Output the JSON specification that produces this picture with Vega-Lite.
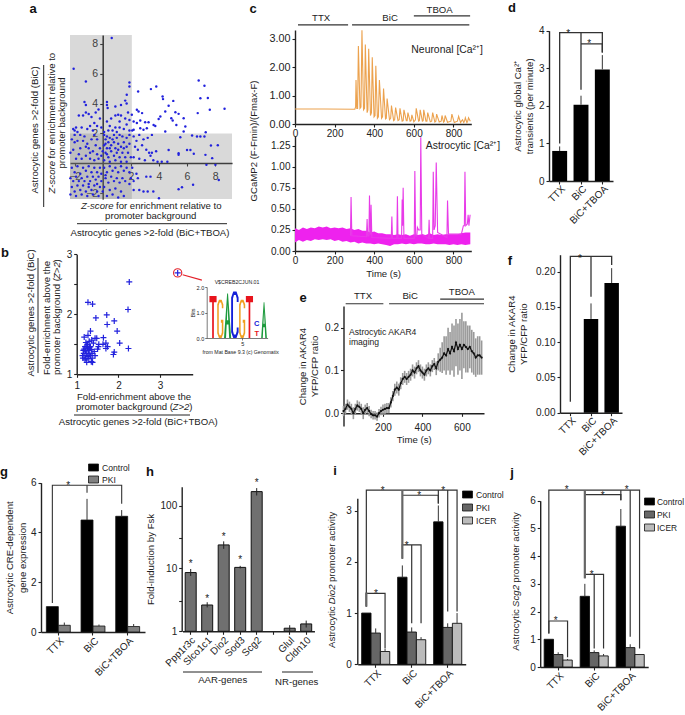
{"$schema":"https://vega.github.io/schema/vega-lite/v6.json","width":685,"height":715,"padding":0,"autosize":"none","background":"white",
"config":{"view":{"stroke":null},"font":"Liberation Sans","text":{"font":"Liberation Sans","fontSize":9.6,"color":"#222"},"axis":{"grid":false,"labelFont":"Liberation Sans","titleFont":"Liberation Sans","labelFontSize":10,"titleFontSize":9.6,"titleFontWeight":"normal","labelColor":"#222","titleColor":"#222","domainColor":"#222","tickColor":"#222","domainWidth":1.4,"tickWidth":1.1,"tickSize":3,"labelPadding":2,"labelOverlap":false,"labelBound":false,"labelFlush":false,"zindex":1,"orient":"left","titleLineHeight":12}},
"resolve":{"scale":{"x":"independent","y":"independent","color":"independent","shape":"independent","size":"independent","xOffset":"independent"},"axis":{"x":"independent","y":"independent"},"legend":{"color":"independent"}},
"layer":[
{"layer":[
{"data":{"values":[{"x0":-2.33,"x1":2.07,"y0":-2.4,"y1":8.6},{"x0":-2.33,"x1":9.2,"y0":-2.4,"y1":2}]},"mark":{"type":"rect","color":"#808080","opacity":0.3},"encoding":{"x":{"field":"x0","type":"quantitative","scale":{"domain":[-2.33,9.2],"range":[70,232],"nice":false,"zero":false},"axis":{"orient":"bottom","offset":-552,"values":[-2,2,4,6,8],"format":"d","title":null,"labelPadding":5,"labelFontSize":10.5,"domainWidth":1.6}},"x2":{"field":"x1"},"y":{"field":"y0","type":"quantitative","scale":{"domain":[-2.4,8.6],"range":[199,35],"nice":false,"zero":false},"axis":{"orient":"left","offset":-102.7,"values":[-2,2,4,6,8],"format":"d","title":null,"labelFontSize":10.5,"domainWidth":1.6}},"y2":{"field":"y1"}}},
{"data":{"values":[{"x":0.64,"y":8.4},{"x":-2.07,"y":6.33},{"x":-1.2,"y":5.48},{"x":6.83,"y":5.55},{"x":7.24,"y":5.19},{"x":3.81,"y":5.15},{"x":3.43,"y":4.97},{"x":2.52,"y":4.81},{"x":1.9,"y":5.41},{"x":1.9,"y":5.15},{"x":1.71,"y":4.59},{"x":6.95,"y":4.36},{"x":7.48,"y":4.38},{"x":4.26,"y":4.47},{"x":4.29,"y":4.3},{"x":5.02,"y":4.18},{"x":4.69,"y":3.85},{"x":7.62,"y":3.58},{"x":8.67,"y":3.65},{"x":6.76,"y":3.36},{"x":4.45,"y":3.47},{"x":5.17,"y":3.42},{"x":5.4,"y":3.31},{"x":5.76,"y":3.02},{"x":4.88,"y":3.02},{"x":4.98,"y":2.86},{"x":4.1,"y":3.13},{"x":3.98,"y":2.97},{"x":5.24,"y":2.57},{"x":5.88,"y":2.46},{"x":7.33,"y":2.08},{"x":5.76,"y":2.13},{"x":4.45,"y":2.13},{"x":3.74,"y":2.5},{"x":3.62,"y":2.57},{"x":3.26,"y":2.75},{"x":3.02,"y":2.75},{"x":2.67,"y":2.86},{"x":2.43,"y":3.58},{"x":2.55,"y":3.47},{"x":2.8,"y":3.36},{"x":2.07,"y":3.25},{"x":2.43,"y":2.7},{"x":2.2,"y":2.8},{"x":2.67,"y":2.35},{"x":3.14,"y":2.35},{"x":2.2,"y":2.24},{"x":2.9,"y":2.24},{"x":5.52,"y":1.74},{"x":6.36,"y":1.86},{"x":6.71,"y":1.79},{"x":6.95,"y":1.79},{"x":7.24,"y":1.79},{"x":7.7,"y":1.19},{"x":8.19,"y":1.21},{"x":6.24,"y":0.89},{"x":6,"y":0.89},{"x":5.4,"y":0.67},{"x":5.4,"y":0.56},{"x":4.69,"y":0.89},{"x":6.48,"y":0.63},{"x":7.79,"y":0.34},{"x":7.31,"y":0.56},{"x":7.38,"y":-0.11},{"x":8.02,"y":-0.11},{"x":8.26,"y":-1.12},{"x":6.43,"y":-1.45},{"x":5.64,"y":-1.61},{"x":5.4,"y":-1.74},{"x":-2.1,"y":2.3},{"x":-1.9,"y":2.4},{"x":-2.0,"y":2.2},{"x":-1.7,"y":3.2},{"x":-1.4,"y":3.2},{"x":-1.2,"y":3.4},{"x":-1.0,"y":3.3},{"x":-0.8,"y":3.1},{"x":-0.5,"y":3.4},{"x":-1.3,"y":4.1},{"x":-1.2,"y":3.9},{"x":-0.3,"y":3.6},{"x":-0.2,"y":3.0},{"x":0.3,"y":4.1},{"x":0.3,"y":3.9},{"x":0.35,"y":3.7},{"x":0.9,"y":3.8},{"x":1.3,"y":3.9},{"x":1.6,"y":4.2},{"x":1.7,"y":4.0},{"x":1.1,"y":3.25},{"x":1.3,"y":3.2},{"x":0.9,"y":3.2},{"x":0.6,"y":3.0},{"x":-0.6,"y":2.7},{"x":-0.9,"y":2.5},{"x":-1.5,"y":2.4},{"x":-1.1,"y":2.3},{"x":-0.7,"y":2.2},{"x":-0.4,"y":2.5},{"x":0.3,"y":2.8},{"x":0.5,"y":2.5},{"x":0.7,"y":2.2},{"x":0.9,"y":2.4},{"x":1.2,"y":2.4},{"x":1.5,"y":2.3},{"x":1.7,"y":2.6},{"x":1.2,"y":2.8},{"x":1.6,"y":3.0},{"x":1.9,"y":2.9},{"x":1.8,"y":3.4},{"x":-0.1,"y":2.4},{"x":0.1,"y":2.1},{"x":0.4,"y":2.2},{"x":1.0,"y":2.1},{"x":1.9,"y":2.2},{"x":2.1,"y":2.2},{"x":-1.8,"y":2.1},{"x":-2.2,"y":1.6},{"x":-2.0,"y":1.4},{"x":-1.8,"y":1.5},{"x":-1.6,"y":1.0},{"x":-1.4,"y":1.5},{"x":-1.3,"y":1.8},{"x":-1.1,"y":1.3},{"x":-1.0,"y":1.0},{"x":-0.8,"y":1.6},{"x":-0.7,"y":0.8},{"x":-0.5,"y":1.2},{"x":-0.4,"y":0.6},{"x":-0.2,"y":1.0},{"x":-2.3,"y":0.7},{"x":-2.1,"y":0.9},{"x":-1.9,"y":0.3},{"x":-1.7,"y":0.6},{"x":-1.5,"y":0.3},{"x":-1.2,"y":0.5},{"x":-0.9,"y":0.3},{"x":-0.6,"y":0.2},{"x":-0.3,"y":0.3},{"x":-0.1,"y":0.5},{"x":0.1,"y":1.9},{"x":0.2,"y":1.6},{"x":0.3,"y":1.8},{"x":0.5,"y":1.7},{"x":0.8,"y":1.9},{"x":1.0,"y":1.7},{"x":1.2,"y":1.9},{"x":1.4,"y":1.8},{"x":1.7,"y":1.7},{"x":1.9,"y":1.9},{"x":0.1,"y":1.2},{"x":0.3,"y":1.0},{"x":0.4,"y":1.4},{"x":0.6,"y":1.2},{"x":0.8,"y":1.4},{"x":0.9,"y":1.0},{"x":1.1,"y":1.3},{"x":1.3,"y":1.1},{"x":1.5,"y":1.4},{"x":1.7,"y":1.1},{"x":1.9,"y":1.3},{"x":0.2,"y":0.7},{"x":0.4,"y":0.4},{"x":0.6,"y":0.8},{"x":0.8,"y":0.5},{"x":1.0,"y":0.7},{"x":1.2,"y":0.4},{"x":1.4,"y":0.7},{"x":1.6,"y":0.4},{"x":1.8,"y":0.7},{"x":2.0,"y":0.4},{"x":0.1,"y":0.2},{"x":0.5,"y":0.1},{"x":0.9,"y":0.2},{"x":1.3,"y":0.1},{"x":1.7,"y":0.1},{"x":0.7,"y":1.6},{"x":0.5,"y":1.0},{"x":0.3,"y":0.6},{"x":1.1,"y":0.9},{"x":1.5,"y":1.0},{"x":0.0,"y":0.8},{"x":0.2,"y":1.3},{"x":-0.6,"y":1.9},{"x":-1.6,"y":1.9},{"x":-2.0,"y":1.9},{"x":-1.2,"y":1.1},{"x":-0.9,"y":0.7},{"x":-0.4,"y":1.6},{"x":-2.2,"y":-0.3},{"x":-2.0,"y":-0.6},{"x":-1.8,"y":-0.2},{"x":-1.6,"y":-0.7},{"x":-1.4,"y":-0.3},{"x":-1.2,"y":-0.5},{"x":-1.0,"y":-0.2},{"x":-0.8,"y":-0.6},{"x":-0.6,"y":-0.3},{"x":-0.4,"y":-0.6},{"x":-0.2,"y":-0.3},{"x":-2.3,"y":-1.0},{"x":-2.1,"y":-1.2},{"x":-1.9,"y":-0.9},{"x":-1.7,"y":-1.2},{"x":-1.5,"y":-1.0},{"x":-1.3,"y":-1.2},{"x":-1.1,"y":-0.9},{"x":-0.9,"y":-1.2},{"x":-0.7,"y":-0.9},{"x":-0.5,"y":-1.1},{"x":-0.3,"y":-0.9},{"x":-0.1,"y":-1.2},{"x":-2.2,"y":-1.6},{"x":-2.0,"y":-1.9},{"x":-1.8,"y":-1.5},{"x":-1.6,"y":-1.8},{"x":-1.4,"y":-1.5},{"x":-1.2,"y":-1.9},{"x":-1.0,"y":-1.6},{"x":-0.8,"y":-1.8},{"x":-0.6,"y":-1.5},{"x":-0.4,"y":-1.9},{"x":-0.2,"y":-1.6},{"x":-2.3,"y":-2.1},{"x":-1.9,"y":-2.2},{"x":-1.5,"y":-2.1},{"x":-1.1,"y":-2.2},{"x":-0.7,"y":-2.1},{"x":-0.3,"y":-2.2},{"x":0.1,"y":-0.3},{"x":0.3,"y":-0.6},{"x":0.5,"y":-0.2},{"x":0.7,"y":-0.5},{"x":0.9,"y":-0.3},{"x":1.1,"y":-0.6},{"x":1.3,"y":-0.2},{"x":1.5,"y":-0.5},{"x":1.7,"y":-0.3},{"x":1.9,"y":-0.6},{"x":0.2,"y":-1.0},{"x":0.4,"y":-1.3},{"x":0.6,"y":-0.9},{"x":0.8,"y":-1.2},{"x":1.0,"y":-1.0},{"x":1.2,"y":-1.3},{"x":1.4,"y":-1.0},{"x":1.6,"y":-1.2},{"x":0.1,"y":-1.6},{"x":0.5,"y":-1.8},{"x":0.9,"y":-1.7},{"x":1.3,"y":-1.9},{"x":0.3,"y":-2.2},{"x":0.7,"y":-2.1},{"x":1.1,"y":-2.3},{"x":1.5,"y":-2.2},{"x":1.9,"y":-1.4},{"x":2.0,"y":-1.0},{"x":-0.1,"y":-0.7},{"x":0.0,"y":-1.9},{"x":-1.0,"y":-1.4},{"x":-0.4,"y":-1.4},{"x":0.2,"y":-0.8},{"x":2.2,"y":1.8},{"x":2.4,"y":1.5},{"x":2.6,"y":1.9},{"x":2.9,"y":1.6},{"x":3.2,"y":1.7},{"x":3.5,"y":1.9},{"x":2.3,"y":1.1},{"x":2.5,"y":0.9},{"x":2.8,"y":1.2},{"x":3.1,"y":0.9},{"x":3.3,"y":0.7},{"x":3.5,"y":0.7},{"x":3.4,"y":0.5},{"x":3.6,"y":0.2},{"x":2.2,"y":0.4},{"x":2.6,"y":0.3},{"x":3.0,"y":0.2},{"x":3.8,"y":0.8},{"x":3.9,"y":0.1},{"x":4.2,"y":0.1},{"x":4.6,"y":0.1},{"x":2.1,"y":-0.3},{"x":2.4,"y":-0.7},{"x":2.5,"y":-1.0},{"x":2.2,"y":-1.2},{"x":3.1,"y":-0.9},{"x":3.4,"y":-0.9},{"x":2.6,"y":-1.8},{"x":2.9,"y":-1.9},{"x":3.2,"y":-1.9},{"x":3.6,"y":-1.9},{"x":4.0,"y":-2.35},{"x":2.2,"y":-1.8}]},"mark":{"type":"point","filled":true,"color":"#2222dd","size":6,"opacity":1},"encoding":{"x":{"field":"x","type":"quantitative"},"y":{"field":"y","type":"quantitative"}}}
]},
{"layer":[
{"data":{"values":[{"x":3.42,"y":2.69},{"x":2.26,"y":2.54},{"x":2.23,"y":2.08},{"x":2.24,"y":1.43},{"x":1.27,"y":2.2},{"x":1.38,"y":2.17},{"x":1.46,"y":1.94},{"x":1.72,"y":1.99},{"x":1.73,"y":1.83},{"x":1.9,"y":1.89},{"x":1.97,"y":1.72},{"x":2.03,"y":1.52},{"x":1.33,"y":1.72},{"x":1.27,"y":1.65},{"x":1.18,"y":1.62},{"x":1.9,"y":1.37},{"x":1.88,"y":1.33},{"x":1.74,"y":1.46},{"x":1.7,"y":1.43},{"x":1.64,"y":1.61},{"x":1.44,"y":1.6},{"x":1.48,"y":1.6},{"x":1.36,"y":1.57},{"x":1.3,"y":1.55},{"x":1.22,"y":1.53},{"x":1.26,"y":1.5},{"x":1.4,"y":1.52},{"x":1.53,"y":1.5},{"x":1.63,"y":1.5},{"x":1.7,"y":1.52},{"x":1.52,"y":1.46},{"x":1.5,"y":1.42},{"x":1.2,"y":1.46},{"x":1.26,"y":1.44},{"x":1.33,"y":1.46},{"x":1.16,"y":1.4},{"x":1.21,"y":1.39},{"x":1.28,"y":1.4},{"x":1.35,"y":1.41},{"x":1.42,"y":1.38},{"x":1.17,"y":1.35},{"x":1.24,"y":1.35},{"x":1.3,"y":1.34},{"x":1.37,"y":1.35},{"x":1.14,"y":1.31},{"x":1.2,"y":1.31},{"x":1.27,"y":1.3},{"x":1.33,"y":1.31},{"x":1.44,"y":1.31},{"x":1.15,"y":1.27},{"x":1.22,"y":1.27},{"x":1.29,"y":1.26},{"x":1.37,"y":1.27},{"x":1.24,"y":1.2},{"x":1.35,"y":1.21},{"x":1.38,"y":1.2},{"x":1.2,"y":1.24},{"x":1.31,"y":1.44},{"x":1.24,"y":1.47},{"x":1.18,"y":1.42}]},"mark":{"type":"point","shape":"M-1 0H1M0 -1V1","color":"#2222dd","strokeWidth":1.2,"size":36,"filled":false,"opacity":1},"encoding":{"x":{"field":"x","type":"quantitative","scale":{"domain":[1,3.78],"range":[76.7,192.7],"nice":false,"zero":false},"axis":{"orient":"bottom","offset":-340.7,"values":[1,2,3],"format":"d","title":null,"labelPadding":3}},"y":{"field":"y","type":"quantitative","scale":{"domain":[1,3],"range":[374.3,254.3],"nice":false,"zero":false},"axis":{"orient":"left","offset":-76.7,"values":[1,1.5,2,2.5,3],"labelExpr":"datum.value%1==0?datum.value:''","title":null}}}},
{"data":{"values":[{"x":3.42,"y":2.69}]},"mark":{"type":"point","color":"#e3202a","size":68,"strokeWidth":1.1,"filled":false,"opacity":1},"encoding":{"x":{"field":"x","type":"quantitative"},"y":{"field":"y","type":"quantitative"}}},
{"data":{"values":[{"x":3.54,"y":2.66},{"x":4,"y":2.57}]},"mark":{"type":"line","color":"#e3202a","strokeWidth":1.1},"encoding":{"x":{"field":"x","type":"quantitative"},"y":{"field":"y","type":"quantitative"}}}
]},
{"data":{"values":[{"pos":1,"letter":"T","bits":1.65,"mid":0.825},{"pos":2,"letter":"G","bits":1.5,"mid":0.75},{"pos":3,"letter":"A","bits":1.75,"mid":0.875},{"pos":4,"letter":"C","bits":1.82,"mid":0.91},{"pos":5,"letter":"G","bits":1.5,"mid":0.75},{"pos":6,"letter":"T","bits":1.65,"mid":0.825},{"pos":8,"letter":"A","bits":1.4,"mid":0.7}]},"mark":{"type":"point","filled":true,"opacity":1},"encoding":{"x":{"field":"pos","type":"quantitative","scale":{"domain":[0.135,8.49],"range":[206.7,267.6],"nice":false,"zero":false},"axis":{"orient":"bottom","offset":-377,"values":[5],"format":"d","title":null,"labelFontSize":5.5,"tickSize":2,"tickWidth":0.6,"domainWidth":0.6,"labelPadding":1}},"y":{"field":"mid","type":"quantitative","scale":{"domain":[0,2],"range":[338,287],"nice":false,"zero":false},"axis":{"orient":"left","offset":-206.7,"values":[0,1,2],"format":".1f","title":"Bits","titleFontSize":5.5,"labelFontSize":5.5,"tickSize":2,"tickWidth":0.6,"domainWidth":0.6,"labelPadding":1,"titlePadding":1}},"shape":{"field":"letter","type":"nominal","legend":null,"scale":{"domain":["T","G","A","C"],"range":["M-.17 -1H.17V-.7H.04V1H-.04V-.7H-.17Z","M.16 -.75L.07 -1H-.07L-.16 -.75V.75L-.07 1H.07L.16 .75V.05H.03V.2H.08V.7L.04 .85H-.04L-.08 .7V-.7L-.04 -.85H.04L.08 -.7V-.55H.16Z","M-.02 -1H.02L.16 1H.07L.04 .4H-.04L-.07 1H-.16ZM0 -.5L-.03 .2H.03Z","M.16 -.75L.07 -1H-.07L-.16 -.75V.75L-.07 1H.07L.16 .75V.55H.08V.7L.04 .85H-.04L-.08 .7V-.7L-.04 -.85H.04L.08 -.7V-.55H.16Z"]}},"color":{"field":"letter","type":"nominal","legend":null,"scale":{"domain":["T","G","A","C"],"range":["#e8141c","#f0a020","#1c9a3c","#1420d8"]}},"size":{"field":"bits","type":"quantitative","legend":null,"scale":{"type":"pow","exponent":2,"domain":[0,2],"range":[0,2601]}}}},
{"layer":[
{"data":{"values":[{"t":0,"v":0.53},{"t":150,"v":0.53},{"t":302,"v":0.52},{"t":306,"v":0.6},{"t":308,"v":1.55},{"t":312,"v":0.55},{"t":316,"v":0.55},{"t":320,"v":2.75},{"t":328,"v":0.55},{"t":333,"v":0.6},{"t":338,"v":3.3},{"t":346,"v":0.5},{"t":351,"v":0.55},{"t":355,"v":2.8},{"t":364,"v":0.4},{"t":368,"v":0.5},{"t":372,"v":2.65},{"t":381,"v":0.3},{"t":386,"v":0.4},{"t":390,"v":2.35},{"t":399,"v":0.25},{"t":404,"v":0.3},{"t":408,"v":2.05},{"t":416,"v":0.2},{"t":421,"v":0.25},{"t":426,"v":1.55},{"t":437,"v":0.2},{"t":442,"v":0.25},{"t":447,"v":1.25},{"t":457,"v":0.18},{"t":461,"v":0.2},{"t":465,"v":0.9},{"t":477,"v":0.15},{"t":483,"v":0.2},{"t":487,"v":0.65},{"t":498,"v":0.12},{"t":503,"v":0.15},{"t":508,"v":0.58},{"t":520,"v":0.12},{"t":526,"v":0.15},{"t":530,"v":0.55},{"t":541,"v":0.1},{"t":546,"v":0.12},{"t":550,"v":0.5},{"t":562,"v":0.12},{"t":566,"v":0.12},{"t":570,"v":0.4},{"t":581,"v":0.1},{"t":586,"v":0.12},{"t":590,"v":0.32},{"t":600,"v":0.08},{"t":608,"v":0.15},{"t":612,"v":0.55},{"t":624,"v":0.1},{"t":628,"v":0.12},{"t":632,"v":0.5},{"t":643,"v":0.1},{"t":647,"v":0.12},{"t":650,"v":0.5},{"t":661,"v":0.1},{"t":666,"v":0.1},{"t":670,"v":0.4},{"t":683,"v":0.08},{"t":690,"v":0.1},{"t":695,"v":0.4},{"t":706,"v":0.07},{"t":711,"v":0.1},{"t":715,"v":0.35},{"t":728,"v":0.07},{"t":738,"v":0.1},{"t":742,"v":0.3},{"t":750,"v":0.07},{"t":754,"v":0.1},{"t":758,"v":0.3},{"t":770,"v":0.06},{"t":787,"v":0.1},{"t":792,"v":0.35},{"t":804,"v":0.05},{"t":820,"v":0.1},{"t":826,"v":0.27},{"t":836,"v":0.05},{"t":840,"v":0.1},{"t":846,"v":0.15},{"t":852,"v":0.05},{"t":856,"v":0.1},{"t":860,"v":0.22},{"t":868,"v":0.05},{"t":872,"v":0.1},{"t":876,"v":0.22},{"t":885,"v":0.1}]},"mark":{"type":"line","color":"#eca24e","strokeWidth":1.1},"encoding":{"x":{"field":"t","type":"quantitative","scale":{"domain":[0,890],"range":[295,471.3],"nice":false,"zero":false},"axis":{"orient":"bottom","offset":-591,"values":[0,200,400,600,800],"title":null,"labelPadding":1}},"y":{"field":"v","type":"quantitative","scale":{"domain":[0,3.31],"range":[124,30],"nice":false,"zero":false},"axis":{"orient":"left","offset":-295,"values":[0,1,2,3],"format":".2f","title":null,"labelFontSize":10.8}}}},
{"data":{"values":[{"a":15,"b":268,"y":3.49},{"a":288,"b":880,"y":3.49},{"a":600,"b":884,"y":3.81}]},"mark":{"type":"rule","color":"#333","strokeWidth":1.2},"encoding":{"x":{"field":"a","type":"quantitative"},"x2":{"field":"b"},"y":{"field":"y","type":"quantitative"}}},
{"data":{"values":[{"label":"TTX","t":132,"ty":3.74},{"label":"BiC","t":480,"ty":3.74},{"label":"TBOA","t":730,"ty":4.03}]},"mark":{"type":"text","fontSize":9.6},"encoding":{"x":{"field":"t","type":"quantitative"},"y":{"field":"ty","type":"quantitative"},"text":{"field":"label"}}},
{"data":{"values":[{"label":"Neuronal [Ca²⁺]","t":768,"ty":2.6}]},"mark":{"type":"text","fontSize":10.4},"encoding":{"x":{"field":"t","type":"quantitative"},"y":{"field":"ty","type":"quantitative"},"text":{"field":"label"}}}
]},
{"layer":[
{"data":{"values":[{"t":0,"lo":0.1,"hi":0.27},{"t":20,"lo":0.13,"hi":0.25},{"t":40,"lo":0.11,"hi":0.28},{"t":60,"lo":0.13,"hi":0.26},{"t":80,"lo":0.12,"hi":0.28},{"t":100,"lo":0.14,"hi":0.27},{"t":120,"lo":0.13,"hi":0.29},{"t":140,"lo":0.14,"hi":0.28},{"t":160,"lo":0.13,"hi":0.29},{"t":180,"lo":0.14,"hi":0.27},{"t":200,"lo":0.12,"hi":0.28},{"t":220,"lo":0.13,"hi":0.27},{"t":240,"lo":0.11,"hi":0.28},{"t":260,"lo":0.12,"hi":0.26},{"t":280,"lo":0.1,"hi":0.27},{"t":300,"lo":0.11,"hi":0.25},{"t":320,"lo":0.09,"hi":0.26},{"t":340,"lo":0.1,"hi":0.24},{"t":360,"lo":0.09,"hi":0.24},{"t":380,"lo":0.09,"hi":0.22},{"t":400,"lo":0.08,"hi":0.23},{"t":420,"lo":0.09,"hi":0.21},{"t":440,"lo":0.08,"hi":0.21},{"t":460,"lo":0.07,"hi":0.2},{"t":480,"lo":0.06,"hi":0.2},{"t":500,"lo":0.08,"hi":0.19},{"t":520,"lo":0.08,"hi":0.2},{"t":540,"lo":0.09,"hi":0.19},{"t":560,"lo":0.08,"hi":0.2},{"t":580,"lo":0.09,"hi":0.18},{"t":600,"lo":0.08,"hi":0.2},{"t":620,"lo":0.09,"hi":0.19},{"t":640,"lo":0.09,"hi":0.2},{"t":660,"lo":0.08,"hi":0.19},{"t":680,"lo":0.08,"hi":0.21},{"t":700,"lo":0.09,"hi":0.19},{"t":720,"lo":0.08,"hi":0.2},{"t":740,"lo":0.08,"hi":0.19},{"t":760,"lo":0.08,"hi":0.2},{"t":780,"lo":0.07,"hi":0.2},{"t":800,"lo":0.08,"hi":0.2},{"t":820,"lo":0.07,"hi":0.2},{"t":840,"lo":0.08,"hi":0.21},{"t":860,"lo":0.07,"hi":0.22},{"t":885,"lo":0.08,"hi":0.22}]},"mark":{"type":"area","color":"#ee22ee"},"encoding":{"x":{"field":"t","type":"quantitative","scale":{"domain":[0,890],"range":[295,471.3],"nice":false,"zero":false},"axis":{"orient":"bottom","offset":-464,"values":[0,200,400,600,800],"title":"Time (s)","labelPadding":1,"titlePadding":3}},"y":{"field":"lo","type":"quantitative","scale":{"domain":[0,1.365],"range":[251,136],"nice":false,"zero":false},"axis":{"orient":"left","offset":-295,"values":[0,0.25,0.5,0.75,1,1.25],"format":".2f","title":null}},"y2":{"field":"hi"}}},
{"data":{"values":[{"t":280,"v":0.18},{"t":283,"v":0.64},{"t":287,"v":0.18},{"t":361,"v":0.17},{"t":364,"v":0.38},{"t":367,"v":0.18},{"t":373,"v":0.18},{"t":376,"v":0.66},{"t":380,"v":0.2},{"t":382,"v":0.2},{"t":384,"v":0.55},{"t":388,"v":0.16},{"t":486,"v":0.15},{"t":489,"v":0.41},{"t":492,"v":0.15},{"t":514,"v":0.15},{"t":517,"v":0.65},{"t":520,"v":0.15},{"t":538,"v":0.15},{"t":541,"v":0.61},{"t":543,"v":0.3},{"t":546,"v":0.75},{"t":550,"v":0.15},{"t":602,"v":0.15},{"t":605,"v":0.95},{"t":609,"v":0.18},{"t":615,"v":0.18},{"t":618,"v":0.28},{"t":624,"v":0.25},{"t":632,"v":0.25},{"t":635,"v":1.35},{"t":640,"v":0.2},{"t":674,"v":0.15},{"t":677,"v":0.37},{"t":680,"v":0.15},{"t":695,"v":0.15},{"t":698,"v":0.94},{"t":702,"v":0.25},{"t":708,"v":0.3},{"t":713,"v":1.05},{"t":720,"v":0.22},{"t":767,"v":0.16},{"t":770,"v":0.6},{"t":775,"v":0.2},{"t":840,"v":0.2},{"t":850,"v":0.3},{"t":855,"v":0.3},{"t":858,"v":0.94},{"t":862,"v":0.3},{"t":870,"v":0.32},{"t":874,"v":0.43},{"t":878,"v":0.3},{"t":884,"v":0.43}]},"mark":{"type":"line","color":"#e83be8","strokeWidth":1.1},"encoding":{"x":{"field":"t","type":"quantitative"},"y":{"field":"v","type":"quantitative"}}},
{"data":{"values":[{"label":"Astrocytic [Ca²⁺]","t":848,"y":1.25}]},"mark":{"type":"text","fontSize":10.4},"encoding":{"x":{"field":"t","type":"quantitative"},"y":{"field":"y","type":"quantitative"},"text":{"field":"label"}}}
]},
{"layer":[
{"data":{"values":[{"condition":"TTX","value":0.8,"hi":0.92},{"condition":"BiC","value":2.03,"hi":2.27},{"condition":"BiC+TBOA","value":2.97,"hi":3.35}]},"layer":[
{"mark":{"type":"bar","color":"#000"},"encoding":{"x":{"field":"condition","type":"nominal","sort":null,"scale":{"domain":["TTX","BiC","BiC+TBOA"],"range":[549,613],"paddingInner":0.3,"paddingOuter":0.15},"axis":{"orient":"bottom","offset":-534,"title":null,"labelAngle":-45,"labelAlign":"right","labelBaseline":"middle","labelPadding":3,"labelOffset":4}},"y":{"field":"value","type":"quantitative","scale":{"domain":[0,4],"range":[181,30.7],"nice":false,"zero":false},"axis":{"orient":"left","offset":-549,"values":[0,1,2,3,4],"format":"d","title":["Astrocytic global Ca²⁺","transients (per minute)"],"titlePadding":4}}}},
{"mark":{"type":"rule","color":"#333"},"encoding":{"x":{"field":"condition","type":"nominal","sort":null},"y":{"field":"value","type":"quantitative"},"y2":{"field":"hi"}}}
]},
{"data":{"values":[{"b":"A","o":1,"condition":"TTX","y":1.0},{"b":"A","o":2,"condition":"TTX","y":3.95},{"b":"A","o":3,"condition":"BiC+TBOA","y":3.95},{"b":"A","o":4,"condition":"BiC+TBOA","y":3.42},{"b":"B","o":1,"condition":"BiC","y":2.43},{"b":"B","o":2,"condition":"BiC","y":3.95},{"b":"C","o":1,"condition":"BiC","y":3.65},{"b":"C","o":2,"condition":"BiC+TBOA","y":3.65},{"b":"C","o":3,"condition":"BiC+TBOA","y":3.42}]},"mark":{"type":"line","color":"#333","strokeWidth":1.3},"encoding":{"x":{"field":"condition","type":"nominal","sort":null},"y":{"field":"y","type":"quantitative"},"detail":{"field":"b"},"order":{"field":"o","type":"quantitative"}}}
]},
{"layer":[
{"data":{"values":[{"t":0,"m":0.005,"lo":-0.007,"hi":0.017},{"t":10,"m":0.01,"lo":-0.002,"hi":0.022},{"t":20,"m":0.02,"lo":0.008,"hi":0.032},{"t":30,"m":0.015,"lo":0.003,"hi":0.027},{"t":40,"m":0.01,"lo":-0.002,"hi":0.022},{"t":50,"m":0.0,"lo":-0.014,"hi":0.014},{"t":60,"m":0.01,"lo":-0.002,"hi":0.022},{"t":70,"m":0.018,"lo":0.006,"hi":0.03},{"t":80,"m":0.015,"lo":0.003,"hi":0.027},{"t":90,"m":0.01,"lo":-0.002,"hi":0.022},{"t":100,"m":0.0,"lo":-0.014,"hi":0.014},{"t":110,"m":0.008,"lo":-0.004,"hi":0.02},{"t":120,"m":0.012,"lo":0.0,"hi":0.024},{"t":130,"m":0.005,"lo":-0.007,"hi":0.017},{"t":140,"m":-0.002,"lo":-0.012,"hi":0.008},{"t":150,"m":-0.005,"lo":-0.015,"hi":0.005},{"t":160,"m":-0.005,"lo":-0.015,"hi":0.005},{"t":170,"m":-0.008,"lo":-0.018,"hi":0.002},{"t":180,"m":0.0,"lo":-0.01,"hi":0.01},{"t":190,"m":0.005,"lo":-0.005,"hi":0.015},{"t":200,"m":0.008,"lo":-0.004,"hi":0.02},{"t":210,"m":0.01,"lo":-0.002,"hi":0.022},{"t":220,"m":0.012,"lo":0.0,"hi":0.024},{"t":230,"m":0.012,"lo":0.0,"hi":0.024},{"t":240,"m":0.025,"lo":0.013,"hi":0.037},{"t":250,"m":0.04,"lo":0.028,"hi":0.052},{"t":260,"m":0.055,"lo":0.041,"hi":0.069},{"t":270,"m":0.06,"lo":0.046,"hi":0.074},{"t":280,"m":0.055,"lo":0.041,"hi":0.069},{"t":290,"m":0.07,"lo":0.056,"hi":0.084},{"t":300,"m":0.08,"lo":0.066,"hi":0.094},{"t":310,"m":0.085,"lo":0.071,"hi":0.099},{"t":320,"m":0.08,"lo":0.066,"hi":0.094},{"t":330,"m":0.085,"lo":0.071,"hi":0.099},{"t":340,"m":0.09,"lo":0.076,"hi":0.104},{"t":350,"m":0.1,"lo":0.086,"hi":0.114},{"t":360,"m":0.095,"lo":0.081,"hi":0.109},{"t":370,"m":0.105,"lo":0.091,"hi":0.119},{"t":380,"m":0.11,"lo":0.096,"hi":0.124},{"t":390,"m":0.1,"lo":0.086,"hi":0.114},{"t":400,"m":0.095,"lo":0.081,"hi":0.109},{"t":410,"m":0.09,"lo":0.076,"hi":0.104},{"t":420,"m":0.1,"lo":0.086,"hi":0.114},{"t":430,"m":0.105,"lo":0.091,"hi":0.119},{"t":440,"m":0.1,"lo":0.086,"hi":0.114},{"t":450,"m":0.11,"lo":0.096,"hi":0.124},{"t":460,"m":0.115,"lo":0.101,"hi":0.129},{"t":470,"m":0.105,"lo":0.089,"hi":0.121},{"t":480,"m":0.12,"lo":0.1,"hi":0.14},{"t":490,"m":0.125,"lo":0.097,"hi":0.153},{"t":500,"m":0.13,"lo":0.094,"hi":0.166},{"t":510,"m":0.14,"lo":0.1,"hi":0.18},{"t":520,"m":0.135,"lo":0.09,"hi":0.18},{"t":530,"m":0.15,"lo":0.1,"hi":0.2},{"t":540,"m":0.14,"lo":0.09,"hi":0.19},{"t":550,"m":0.155,"lo":0.1,"hi":0.21},{"t":560,"m":0.145,"lo":0.085,"hi":0.205},{"t":570,"m":0.165,"lo":0.11,"hi":0.22},{"t":580,"m":0.15,"lo":0.09,"hi":0.21},{"t":590,"m":0.16,"lo":0.1,"hi":0.22},{"t":600,"m":0.15,"lo":0.08,"hi":0.235},{"t":610,"m":0.16,"lo":0.105,"hi":0.215},{"t":620,"m":0.155,"lo":0.095,"hi":0.215},{"t":630,"m":0.15,"lo":0.095,"hi":0.205},{"t":640,"m":0.155,"lo":0.105,"hi":0.205},{"t":650,"m":0.145,"lo":0.095,"hi":0.195},{"t":660,"m":0.14,"lo":0.09,"hi":0.19},{"t":670,"m":0.13,"lo":0.085,"hi":0.175},{"t":680,"m":0.135,"lo":0.09,"hi":0.18},{"t":690,"m":0.135,"lo":0.09,"hi":0.18},{"t":700,"m":0.13,"lo":0.09,"hi":0.17}]},"layer":[
{"mark":{"type":"rule","color":"#999","strokeWidth":1.6},"encoding":{"x":{"field":"t","type":"quantitative","scale":{"domain":[0,712],"range":[343.5,484],"nice":false,"zero":false},"axis":{"orient":"bottom","offset":-301.7,"values":[200,400,600],"title":"Time (s)","labelPadding":6,"titlePadding":2}},"y":{"field":"lo","type":"quantitative","scale":{"domain":[-0.03,0.2507],"range":[426,306],"nice":false,"zero":false},"axis":{"orient":"left","offset":-343.5,"values":[0,0.1,0.2],"format":".1f","title":["Change in AKAR4","YFP/CFP ratio"],"titlePadding":5}},"y2":{"field":"hi"}}},
{"mark":{"type":"line","color":"#111","strokeWidth":1.2,"point":{"color":"#111","size":5,"filled":true}},"encoding":{"x":{"field":"t","type":"quantitative"},"y":{"field":"m","type":"quantitative"}}}
]},
{"data":{"values":[{"a":11,"b":202,"y":0.256},{"a":231,"b":712,"y":0.256},{"a":490,"b":712,"y":0.267}]},"mark":{"type":"rule","color":"#333","strokeWidth":1.2},"encoding":{"x":{"field":"a","type":"quantitative"},"x2":{"field":"b"},"y":{"field":"y","type":"quantitative"}}},
{"data":{"values":[{"label":"TTX","t":99,"y":0.273},{"label":"BiC","t":338,"y":0.273},{"label":"TBOA","t":600,"y":0.283}]},"mark":{"type":"text","fontSize":9.6},"encoding":{"x":{"field":"t","type":"quantitative"},"y":{"field":"y","type":"quantitative"},"text":{"field":"label"}}},
{"data":{"values":[{"label":"Astrocytic AKAR4","t":28,"y":0.19},{"label":"imaging","t":28,"y":0.166}]},"mark":{"type":"text","fontSize":8.6,"align":"left"},"encoding":{"x":{"field":"t","type":"quantitative"},"y":{"field":"y","type":"quantitative"},"text":{"field":"label"}}}
]},
{"layer":[
{"data":{"values":[{"condition":"TTX","value":0,"hi":0},{"condition":"BiC","value":0.133,"hi":0.155},{"condition":"BiC+TBOA","value":0.184,"hi":0.205}]},"layer":[
{"mark":{"type":"bar","color":"#000"},"encoding":{"x":{"field":"condition","type":"nominal","sort":null,"scale":{"domain":["TTX","BiC","BiC+TBOA"],"range":[560,622],"paddingInner":0.3,"paddingOuter":0.15},"axis":{"orient":"bottom","offset":-302.3,"title":null,"labelAngle":-45,"labelAlign":"right","labelBaseline":"middle","labelPadding":3,"labelOffset":4}},"y":{"field":"value","type":"quantitative","scale":{"domain":[0,0.2241],"range":[412.7,254.7],"nice":false,"zero":false},"axis":{"orient":"left","offset":-560,"values":[0,0.05,0.1,0.15,0.2],"format":".2f","title":["Change in AKAR4","YFP/CFP ratio"],"titlePadding":7}}}},
{"mark":{"type":"rule","color":"#333"},"encoding":{"x":{"field":"condition","type":"nominal","sort":null},"y":{"field":"value","type":"quantitative"},"y2":{"field":"hi"}}}
]},
{"data":{"values":[{"b":"A","o":1,"condition":"TTX","y":0.0155},{"b":"A","o":2,"condition":"TTX","y":0.2218},{"b":"A","o":3,"condition":"BiC+TBOA","y":0.2218},{"b":"A","o":4,"condition":"BiC+TBOA","y":0.2095},{"b":"B","o":1,"condition":"BiC","y":0.1645},{"b":"B","o":2,"condition":"BiC","y":0.2218}]},"mark":{"type":"line","color":"#333","strokeWidth":1.3},"encoding":{"x":{"field":"condition","type":"nominal","sort":null},"y":{"field":"y","type":"quantitative"},"detail":{"field":"b"},"order":{"field":"o","type":"quantitative"}}}
]},
{"layer":[
{"data":{"values":[{"condition":"TTX","series":"Control","value":1.02,"hi":1.02},{"condition":"TTX","series":"PKI","value":0.27,"hi":0.38},{"condition":"BiC","series":"Control","value":4.5,"hi":5.35},{"condition":"BiC","series":"PKI","value":0.24,"hi":0.3},{"condition":"BiC+TBOA","series":"Control","value":4.65,"hi":4.9},{"condition":"BiC+TBOA","series":"PKI","value":0.22,"hi":0.32}]},"layer":[
{"mark":{"type":"bar","stroke":"#111","strokeWidth":0.8},"encoding":{"x":{"field":"condition","type":"nominal","sort":null,"scale":{"domain":["TTX","BiC","BiC+TBOA"],"range":[41,145],"paddingInner":0.31,"paddingOuter":0.155},"axis":{"orient":"bottom","offset":-83,"title":null,"labelAngle":-45,"labelAlign":"right","labelBaseline":"middle","labelPadding":4,"labelOffset":4}},"xOffset":{"field":"series","type":"nominal","sort":null,"scale":{"domain":["Control","PKI"],"paddingInner":0,"paddingOuter":0}},"y":{"field":"value","type":"quantitative","stack":null,"scale":{"domain":[0,6],"range":[632,482.7],"nice":false,"zero":false},"axis":{"orient":"left","offset":-41,"values":[0,2,4,6],"format":"d","title":["Astrocytic CRE-dependent","gene expression"],"titlePadding":3,"titleLineHeight":13}},"color":{"field":"series","type":"nominal","sort":null,"scale":{"domain":["Control","PKI"],"range":["#000","#808080"]},"legend":{"orient":"none","legendX":88,"legendY":462,"title":null,"symbolType":"M-1 -.7H1V.7H-1Z","symbolSize":100,"symbolStrokeColor":"#111","symbolStrokeWidth":0.8,"labelFontSize":8.6,"labelFont":"Liberation Sans","labelColor":"#222","padding":0,"rowPadding":1,"labelOffset":3,"symbolOpacity":1}}}},
{"mark":{"type":"rule","color":"#333"},"encoding":{"x":{"field":"condition","type":"nominal","sort":null},"xOffset":{"field":"series","type":"nominal","sort":null},"y":{"field":"value","type":"quantitative"},"y2":{"field":"hi"}}}
]},
{"data":{"values":[{"b":"A","o":1,"condition":"TTX","series":"Control","y":1.17},{"b":"A","o":2,"condition":"TTX","series":"Control","y":5.9},{"b":"A","o":3,"condition":"BiC+TBOA","series":"Control","y":5.9},{"b":"A","o":4,"condition":"BiC+TBOA","series":"Control","y":5.15},{"b":"B","o":1,"condition":"BiC","series":"Control","y":5.6},{"b":"B","o":2,"condition":"BiC","series":"Control","y":5.9}]},"mark":{"type":"line","color":"#333","strokeWidth":1.1},"encoding":{"x":{"field":"condition","type":"nominal","sort":null},"xOffset":{"field":"series","type":"nominal","sort":null},"y":{"field":"y","type":"quantitative"},"detail":{"field":"b"},"order":{"field":"o","type":"quantitative"}}}
]},
{"layer":[
{"data":{"values":[{"gene":"Ppp1r3c","value":8.6,"lo":7.6,"hi":9.8},{"gene":"Slco1c1","value":2.62,"lo":2.4,"hi":2.9},{"gene":"Dio2","value":23.7,"lo":20.5,"hi":27},{"gene":"Sod3","value":10.4,"lo":10,"hi":11},{"gene":"Scg2","value":167,"lo":145,"hi":190},{"gene":"Glul","value":1.12,"lo":1,"hi":1.25},{"gene":"Cldn10","value":1.31,"lo":1.15,"hi":1.48}]},"layer":[
{"mark":{"type":"bar","color":"#707070","stroke":"#111","strokeWidth":1,"width":11},"encoding":{"x":{"field":"gene","type":"nominal","sort":null,"scale":{"domain":["Ppp1r3c","Slco1c1","Dio2","Sod3","Scg2"," ","Glul","Cldn10"],"range":[182.45,314.45],"paddingInner":0,"paddingOuter":0},"axis":{"orient":"bottom","offset":-83.7,"title":null,"labelAngle":-45,"labelAlign":"right","labelBaseline":"middle","labelPadding":4,"labelOffset":3}},"y":{"field":"value","type":"quantitative","stack":null,"scale":{"type":"log","domain":[1,200],"range":[631.3,486.7],"nice":false,"zero":false},"axis":{"orient":"left","offset":-181.7,"values":[1,3,10,30,100],"labelExpr":"datum.value==1||datum.value==10||datum.value==100?datum.value:''","title":"Fold-induction by Fsk","titlePadding":5}}}},
{"mark":{"type":"rule","color":"#222"},"encoding":{"x":{"field":"gene","type":"nominal","sort":null},"y":{"field":"lo","type":"quantitative"},"y2":{"field":"hi"}}}
]},
{"data":{"values":[{"gene":"Ppp1r3c","y":12.2},{"gene":"Slco1c1","y":3.4},{"gene":"Dio2","y":33},{"gene":"Sod3","y":14},{"gene":"Scg2","y":235}]},"mark":{"type":"text","text":"*","fontSize":10,"dy":1},"encoding":{"x":{"field":"gene","type":"nominal","sort":null},"y":{"field":"y","type":"quantitative"}}}
]},
{"layer":[
{"data":{"values":[{"condition":"TTX","series":"Control","value":1.0,"hi":1.0},{"condition":"TTX","series":"PKI","value":0.61,"hi":0.7},{"condition":"TTX","series":"ICER","value":0.25,"hi":0.3},{"condition":"BiC","series":"Control","value":1.7,"hi":1.93},{"condition":"BiC","series":"PKI","value":0.63,"hi":0.72},{"condition":"BiC","series":"ICER","value":0.48,"hi":0.53},{"condition":"BiC+TBOA","series":"Control","value":2.78,"hi":3.1},{"condition":"BiC+TBOA","series":"PKI","value":0.72,"hi":0.8},{"condition":"BiC+TBOA","series":"ICER","value":0.8,"hi":1.0}]},"layer":[
{"mark":{"type":"bar","stroke":"#111","strokeWidth":0.9},"encoding":{"x":{"field":"condition","type":"nominal","sort":null,"scale":{"domain":["TTX","BiC","BiC+TBOA"],"range":[357.7,465.7],"paddingInner":0.22,"paddingOuter":0.11},"axis":{"orient":"bottom","offset":-50.7,"title":null,"labelAngle":-45,"labelAlign":"right","labelBaseline":"middle","labelPadding":4,"labelOffset":4}},"xOffset":{"field":"series","type":"nominal","sort":null,"scale":{"domain":["Control","PKI","ICER"],"paddingInner":0,"paddingOuter":0}},"y":{"field":"value","type":"quantitative","stack":null,"scale":{"domain":[0,3.24],"range":[664.3,498.3],"nice":false,"zero":false},"axis":{"orient":"left","offset":-357.3,"values":[0,1,2,3],"format":"d","title":null,"labelPadding":3}},"color":{"field":"series","type":"nominal","sort":null,"scale":{"domain":["Control","PKI","ICER"],"range":["#000","#666","#bbb"]},"legend":{"orient":"none","legendX":462,"legendY":489,"title":null,"symbolType":"M-1 -.7H1V.7H-1Z","symbolSize":100,"symbolStrokeColor":"#111","symbolStrokeWidth":0.8,"labelFontSize":8.6,"labelFont":"Liberation Sans","labelColor":"#222","padding":0,"rowPadding":2,"labelOffset":3,"symbolOpacity":1}}}},
{"mark":{"type":"rule","color":"#333"},"encoding":{"x":{"field":"condition","type":"nominal","sort":null},"xOffset":{"field":"series","type":"nominal","sort":null},"y":{"field":"value","type":"quantitative"},"y2":{"field":"hi"}}}
]},
{"data":{"values":[{"b":"A","o":1,"condition":"TTX","series":"Control","y":1.126},{"b":"A","o":2,"condition":"TTX","series":"Control","y":3.4},{"b":"A","o":3,"condition":"BiC+TBOA","series":"ICER","y":3.4},{"b":"A","o":4,"condition":"BiC+TBOA","series":"ICER","y":1.03},{"b":"B","o":1,"condition":"BiC+TBOA","series":"PKI","y":3.4},{"b":"B","o":2,"condition":"BiC+TBOA","series":"PKI","y":1.03},{"b":"C","o":1,"condition":"BiC+TBOA","series":"Control","y":3.4},{"b":"C","o":2,"condition":"BiC+TBOA","series":"Control","y":3.14},{"b":"D","o":1,"condition":"BiC","series":"Control","y":3.3},{"b":"D","o":2,"condition":"BiC+TBOA","series":"Control","y":3.3},{"b":"D","o":3,"condition":"BiC+TBOA","series":"Control","y":3.14},{"b":"E","o":1,"condition":"BiC","series":"Control","y":2.06},{"b":"E","o":2,"condition":"BiC","series":"Control","y":2.33},{"b":"E","o":3,"condition":"BiC","series":"ICER","y":2.33},{"b":"E","o":4,"condition":"BiC","series":"ICER","y":0.8},{"b":"F","o":1,"condition":"BiC","series":"PKI","y":2.33},{"b":"F","o":2,"condition":"BiC","series":"PKI","y":0.8},{"b":"G","o":1,"condition":"TTX","series":"Control","y":1.126},{"b":"G","o":2,"condition":"TTX","series":"Control","y":1.386},{"b":"G","o":3,"condition":"TTX","series":"ICER","y":1.386},{"b":"G","o":4,"condition":"TTX","series":"ICER","y":0.31}]},"mark":{"type":"line","color":"#333","strokeWidth":1.2},"encoding":{"x":{"field":"condition","type":"nominal","sort":null},"xOffset":{"field":"series","type":"nominal","sort":null},"y":{"field":"y","type":"quantitative"},"detail":{"field":"b"},"order":{"field":"o","type":"quantitative"}}},
{"data":{"values":[{"b":"A","o":1,"condition":"BiC","series":"Control","y":2.06},{"b":"A","o":2,"condition":"BiC","series":"Control","y":3.4},{"b":"B","o":1,"condition":"TTX","series":"Control","y":1.126},{"b":"B","o":2,"condition":"TTX","series":"Control","y":1.4}]},"mark":{"type":"line","color":"#666","strokeWidth":2.2},"encoding":{"x":{"field":"condition","type":"nominal","sort":null},"xOffset":{"field":"series","type":"nominal","sort":null},"y":{"field":"y","type":"quantitative"},"detail":{"field":"b"},"order":{"field":"o","type":"quantitative"}}}
]},
{"layer":[
{"data":{"values":[{"condition":"TTX","series":"Control","value":1.0,"hi":1.0},{"condition":"TTX","series":"PKI","value":0.45,"hi":0.53},{"condition":"TTX","series":"ICER","value":0.25,"hi":0.29},{"condition":"BiC","series":"Control","value":2.55,"hi":3.0},{"condition":"BiC","series":"PKI","value":0.52,"hi":0.6},{"condition":"BiC","series":"ICER","value":0.4,"hi":0.47},{"condition":"BiC+TBOA","series":"Control","value":5.08,"hi":5.7},{"condition":"BiC+TBOA","series":"PKI","value":0.7,"hi":0.82},{"condition":"BiC+TBOA","series":"ICER","value":0.45,"hi":0.47}]},"layer":[
{"mark":{"type":"bar","stroke":"#111","strokeWidth":0.9},"encoding":{"x":{"field":"condition","type":"nominal","sort":null,"scale":{"domain":["TTX","BiC","BiC+TBOA"],"range":[540.2,648.2],"paddingInner":0.22,"paddingOuter":0.11},"axis":{"orient":"bottom","offset":-48,"title":null,"labelAngle":-45,"labelAlign":"right","labelBaseline":"middle","labelPadding":4,"labelOffset":4}},"xOffset":{"field":"series","type":"nominal","sort":null,"scale":{"domain":["Control","PKI","ICER"],"paddingInner":0,"paddingOuter":0}},"y":{"field":"value","type":"quantitative","stack":null,"scale":{"domain":[0,6],"range":[667,500.7],"nice":false,"zero":false},"axis":{"orient":"left","offset":-540.2,"values":[0,1,2,3,4,5,6],"format":"d","title":null}},"color":{"field":"series","type":"nominal","sort":null,"scale":{"domain":["Control","PKI","ICER"],"range":["#000","#666","#bbb"]},"legend":{"orient":"none","legendX":644,"legendY":496,"title":null,"symbolType":"M-1 -.7H1V.7H-1Z","symbolSize":100,"symbolStrokeColor":"#111","symbolStrokeWidth":0.8,"labelFontSize":8.4,"labelFont":"Liberation Sans","labelColor":"#222","padding":0,"rowPadding":2,"labelOffset":2,"symbolOpacity":1}}}},
{"mark":{"type":"rule","color":"#333"},"encoding":{"x":{"field":"condition","type":"nominal","sort":null},"xOffset":{"field":"series","type":"nominal","sort":null},"y":{"field":"value","type":"quantitative"},"y2":{"field":"hi"}}}
]},
{"data":{"values":[{"b":"A","o":1,"condition":"TTX","series":"Control","y":1.21},{"b":"A","o":2,"condition":"TTX","series":"Control","y":6.38},{"b":"A","o":3,"condition":"BiC+TBOA","series":"ICER","y":6.38},{"b":"A","o":4,"condition":"BiC+TBOA","series":"ICER","y":0.67},{"b":"B","o":1,"condition":"BiC+TBOA","series":"PKI","y":6.38},{"b":"B","o":2,"condition":"BiC+TBOA","series":"PKI","y":1.09},{"b":"C","o":1,"condition":"BiC+TBOA","series":"Control","y":6.38},{"b":"C","o":2,"condition":"BiC+TBOA","series":"Control","y":6.02},{"b":"D","o":1,"condition":"BiC","series":"Control","y":6.22},{"b":"D","o":2,"condition":"BiC+TBOA","series":"Control","y":6.22},{"b":"D","o":3,"condition":"BiC+TBOA","series":"Control","y":6.02},{"b":"E","o":1,"condition":"BiC","series":"Control","y":3.2},{"b":"E","o":2,"condition":"BiC","series":"Control","y":3.34},{"b":"E","o":3,"condition":"BiC","series":"ICER","y":3.34},{"b":"E","o":4,"condition":"BiC","series":"ICER","y":0.67},{"b":"F","o":1,"condition":"BiC","series":"PKI","y":3.34},{"b":"F","o":2,"condition":"BiC","series":"PKI","y":0.67},{"b":"G","o":1,"condition":"TTX","series":"Control","y":1.21},{"b":"G","o":2,"condition":"TTX","series":"Control","y":1.66},{"b":"G","o":3,"condition":"TTX","series":"ICER","y":1.66},{"b":"G","o":4,"condition":"TTX","series":"ICER","y":0.35}]},"mark":{"type":"line","color":"#333","strokeWidth":1.2},"encoding":{"x":{"field":"condition","type":"nominal","sort":null},"xOffset":{"field":"series","type":"nominal","sort":null},"y":{"field":"y","type":"quantitative"},"detail":{"field":"b"},"order":{"field":"o","type":"quantitative"}}},
{"data":{"values":[{"b":"A","o":1,"condition":"BiC","series":"Control","y":3.2},{"b":"A","o":2,"condition":"BiC","series":"Control","y":6.38}]},"mark":{"type":"line","color":"#666","strokeWidth":2.2},"encoding":{"x":{"field":"condition","type":"nominal","sort":null},"xOffset":{"field":"series","type":"nominal","sort":null},"y":{"field":"y","type":"quantitative"},"detail":{"field":"b"},"order":{"field":"o","type":"quantitative"}}}
]},
{"layer":[
{"data":{"values":[{"x":43.7,"x2":43.7,"y":65,"y2":207},{"x":77,"x2":227,"y":223.7,"y2":223.7},{"x":38,"x2":38,"y":258,"y2":373},{"x":74,"x2":190,"y":415,"y2":415},{"x":183,"x2":262,"y":672,"y2":672},{"x":282,"x2":313,"y":672,"y2":672}]},"mark":{"type":"rule","color":"#222","strokeWidth":1},"encoding":{"x":{"field":"x","type":"quantitative","axis":null,"scale":{"domain":[0,685],"range":[0,685],"nice":false,"zero":false}},"x2":{"field":"x2"},"y":{"field":"y","type":"quantitative","axis":null,"scale":{"domain":[0,715],"range":[0,715],"nice":false,"zero":false}},"y2":{"field":"y2"}}},
{"data":{"values":[{"t":"a","x":33,"y":9},{"t":"b","x":5,"y":253},{"t":"c","x":253,"y":9},{"t":"d","x":512,"y":8},{"t":"e","x":303,"y":298},{"t":"f","x":510,"y":261},{"t":"g","x":4,"y":472},{"t":"h","x":150,"y":472},{"t":"i","x":335,"y":471},{"t":"j","x":512,"y":473}]},"mark":{"type":"text","fontSize":13,"fontWeight":"bold","color":"#111"},"encoding":{"x":{"field":"x","type":"quantitative"},"y":{"field":"y","type":"quantitative"},"text":{"field":"t"}}},
{"data":{"values":[{"t":"promoter background","x":150.7,"y":216},{"t":"Astrocytic genes >2-fold (BiC+TBOA)","x":150,"y":232.7},{"t":"Fold-enrichment above the","x":134,"y":396.7},{"t":"Astrocytic genes >2-fold (BiC+TBOA)","x":138.3,"y":422.3},{"t":"AAR-genes","x":222.7,"y":680},{"t":"NR-genes","x":296.7,"y":681.7}]},"mark":{"type":"text","fontSize":9.6},"encoding":{"x":{"field":"x","type":"quantitative"},"y":{"field":"y","type":"quantitative"},"text":{"field":"t"}}},
{"data":{"values":[{"t":"for enrichment relative to","x":116,"y":205.7},{"t":"promoter background (","x":76,"y":407},{"t":")","x":189.2,"y":407}]},"mark":{"type":"text","fontSize":9.6,"align":"left"},"encoding":{"x":{"field":"x","type":"quantitative"},"y":{"field":"y","type":"quantitative"},"text":{"field":"t"}}},
{"data":{"values":[{"t":"Z-score","x":81,"y":205.7},{"t":"Z>2","x":172.6,"y":407}]},"mark":{"type":"text","fontSize":9.6,"align":"left","fontStyle":"italic"},"encoding":{"x":{"field":"x","type":"quantitative"},"y":{"field":"y","type":"quantitative"},"text":{"field":"t"}}},
{"data":{"values":[{"t":"Astrocytic genes >2-fold (BiC)","x":35,"y":130},{"t":"promoter background","x":61.7,"y":123},{"t":"Astrocytic genes >2-fold (BiC)","x":30.7,"y":313},{"t":"Fold-enrichment above the","x":46.7,"y":318},{"t":"GCaMP2 (F-Fmin)/(Fmax-F)","x":254,"y":141}]},"mark":{"type":"text","fontSize":9.6,"angle":270},"encoding":{"x":{"field":"x","type":"quantitative"},"y":{"field":"y","type":"quantitative"},"text":{"field":"t"}}},
{"data":{"values":[{"t":"for enrichment relative to","x":51.7,"y":158.4},{"t":"promoter background (","x":56.7,"y":375},{"t":")","x":56.7,"y":262.4},{"t":"Astrocytic","x":332,"y":648},{"t":"promoter activity","x":332,"y":582},{"t":"Astrocytic","x":515.7,"y":650.7},{"t":"promoter activity","x":515.7,"y":582.7}]},"mark":{"type":"text","fontSize":9.6,"angle":270,"align":"left"},"encoding":{"x":{"field":"x","type":"quantitative"},"y":{"field":"y","type":"quantitative"},"text":{"field":"t"}}},
{"data":{"values":[{"t":"Z-score","x":51.7,"y":193.5},{"t":"Z>2","x":56.7,"y":279},{"t":"Dio2","x":332,"y":604.2},{"t":"Scg2","x":515.7,"y":606.9}]},"mark":{"type":"text","fontSize":9.6,"angle":270,"align":"left","fontStyle":"italic"},"encoding":{"x":{"field":"x","type":"quantitative"},"y":{"field":"y","type":"quantitative"},"text":{"field":"t"}}},
{"data":{"values":[{"x":568.3,"y":34},{"x":589.3,"y":44},{"x":580,"y":259},{"x":68.3,"y":486},{"x":382.7,"y":491},{"x":419.3,"y":496},{"x":443.3,"y":491},{"x":406.7,"y":546},{"x":376,"y":594},{"x":566.7,"y":490},{"x":602.7,"y":496},{"x":626.7,"y":490},{"x":591.7,"y":575},{"x":555.7,"y":621}]},"mark":{"type":"text","text":"*","fontSize":10},"encoding":{"x":{"field":"x","type":"quantitative"},"y":{"field":"y","type":"quantitative"}}},
{"data":{"values":[{"t":"V$CREB2CJUN.01","x":237,"y":282},{"t":"from Mat Base 9.3 (c) Genomatix","x":240.7,"y":351.7}]},"mark":{"type":"text","fontSize":5.2},"encoding":{"x":{"field":"x","type":"quantitative"},"y":{"field":"y","type":"quantitative"},"text":{"field":"t"}}},
{"data":{"values":[{"t":"C","x":256.8,"y":324},{"t":"T","x":256.8,"y":333.5}]},"mark":{"type":"text","fontSize":7.5,"fontWeight":"bold"},"encoding":{"x":{"field":"x","type":"quantitative"},"y":{"field":"y","type":"quantitative"},"text":{"field":"t"},"color":{"field":"t","type":"nominal","legend":null,"scale":{"domain":["C","T"],"range":["#1420d8","#e8141c"]}}}}
]}
]}
